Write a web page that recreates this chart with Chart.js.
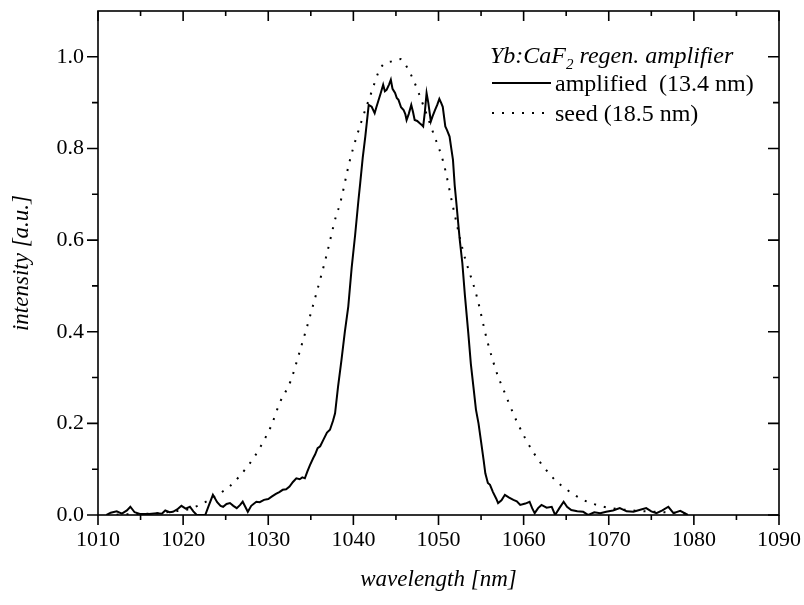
<!DOCTYPE html>
<html><head><meta charset="utf-8">
<script src="https://cdn.jsdelivr.net/npm/chart.js@4"></script>
<style>html,body{margin:0;padding:0;background:#fff}canvas{display:block}</style>
</head><body>
<canvas id="c" width="804" height="605"></canvas>
<script>
// ---- data ----
const ampWavelength = [1011.0,1011.5,1012.2,1012.8,1013.4,1013.8,1014.3,1015.0,1016.0,1016.9,1017.5,1017.9,1018.4,1018.8,1019.3,1019.8,1020.3,1020.8,1021.2,1021.6,1022.6,1023.0,1023.5,1024.0,1024.4,1024.7,1025.1,1025.5,1025.9,1026.3,1026.7,1027.0,1027.3,1027.6,1028.0,1028.6,1029.0,1029.5,1030.0,1030.4,1030.9,1031.3,1031.7,1032.1,1032.5,1032.9,1033.3,1033.7,1034.0,1034.3,1034.6,1034.9,1035.3,1035.5,1035.8,1036.1,1036.5,1036.9,1037.25,1037.6,1037.85,1038.2,1038.6,1039.0,1039.4,1039.8,1040.2,1040.6,1040.8,1041.1,1041.4,1041.6,1041.8,1042.15,1042.5,1042.7,1042.9,1043.2,1043.5,1043.7,1043.9,1044.2,1044.4,1044.6,1044.9,1045.1,1045.3,1045.6,1045.9,1046.1,1046.25,1046.5,1046.8,1047.0,1047.2,1047.5,1047.8,1048.0,1048.2,1048.4,1048.6,1048.8,1049.1,1049.3,1049.6,1049.85,1050.1,1050.3,1050.5,1050.8,1051.0,1051.3,1051.5,1051.7,1051.9,1052.1,1052.3,1052.5,1052.8,1053.1,1053.5,1053.8,1054.1,1054.4,1054.7,1055.0,1055.3,1055.5,1055.8,1056.05,1056.4,1056.8,1057.0,1057.4,1057.8,1058.3,1058.8,1059.2,1059.6,1060.2,1060.7,1061.0,1061.3,1061.7,1062.1,1062.7,1063.3,1063.7,1064.2,1064.7,1065.1,1065.6,1066.3,1067.0,1067.6,1068.3,1069.0,1069.7,1070.5,1071.3,1072.1,1072.9,1073.6,1074.4,1075.0,1075.6,1076.3,1077.0,1077.6,1078.4,1079.3];
const ampIntensity = [0.000,0.005,0.008,0.003,0.010,0.018,0.006,0.002,0.002,0.004,0.003,0.010,0.006,0.007,0.012,0.020,0.014,0.018,0.008,0.000,0.000,0.020,0.044,0.028,0.020,0.018,0.024,0.026,0.020,0.015,0.022,0.029,0.018,0.007,0.020,0.029,0.028,0.033,0.035,0.040,0.046,0.050,0.055,0.056,0.062,0.072,0.080,0.078,0.082,0.080,0.095,0.109,0.125,0.132,0.146,0.150,0.165,0.180,0.186,0.205,0.222,0.280,0.338,0.400,0.455,0.540,0.610,0.688,0.724,0.780,0.826,0.860,0.895,0.891,0.877,0.890,0.902,0.920,0.939,0.925,0.928,0.940,0.950,0.930,0.921,0.910,0.906,0.890,0.884,0.875,0.862,0.875,0.895,0.880,0.862,0.860,0.855,0.852,0.848,0.880,0.921,0.900,0.859,0.870,0.884,0.895,0.908,0.900,0.891,0.848,0.840,0.826,0.800,0.775,0.720,0.681,0.640,0.600,0.550,0.480,0.397,0.330,0.280,0.230,0.200,0.160,0.120,0.091,0.070,0.066,0.050,0.035,0.026,0.032,0.044,0.038,0.033,0.030,0.022,0.025,0.029,0.015,0.004,0.015,0.022,0.016,0.018,0.000,0.015,0.029,0.018,0.011,0.008,0.007,0.000,0.006,0.004,0.007,0.010,0.015,0.008,0.007,0.011,0.015,0.008,0.004,0.010,0.018,0.004,0.009,0.000];
const seedWavelength = [1011.0,1014.0,1017.0,1019.0,1020.5,1021.7,1023.0,1024.3,1025.5,1026.5,1027.6,1028.3,1029.0,1029.7,1030.4,1031.4,1032.0,1032.6,1033.7,1035.0,1036.3,1036.9,1038.0,1038.4,1039.6,1041.0,1042.15,1042.9,1043.5,1044.5,1045.5,1046.25,1047.2,1048.2,1049.4,1050.6,1051.7,1052.9,1054.5,1055.7,1057.0,1057.4,1059.2,1061.1,1063.5,1065.1,1067.0,1069.4,1072.1,1075.6,1078.4,1079.5];
const seedIntensity = [0.000,0.002,0.004,0.008,0.012,0.020,0.032,0.047,0.063,0.082,0.107,0.125,0.146,0.170,0.197,0.247,0.268,0.291,0.357,0.440,0.528,0.571,0.655,0.677,0.775,0.862,0.924,0.964,0.983,0.990,0.995,0.979,0.943,0.895,0.833,0.768,0.673,0.575,0.477,0.382,0.302,0.284,0.204,0.138,0.080,0.055,0.033,0.018,0.011,0.007,0.004,0.002];
const xMajorTicks = [1010,1020,1030,1040,1050,1060,1070,1080,1090];
const xMinorTicks = [1015,1025,1035,1045,1055,1065,1075,1085];
const yMajorTicks = [0.0,0.2,0.4,0.6,0.8,1.0];
const yMinorTicks = [0.1,0.3,0.5,0.7,0.9];
const legendTitle = ['Yb:CaF', '2', ' regen. amplifier'];
const seriesNames = ['amplified  (13.4 nm)', 'seed (18.5 nm)'];
const xTitle = 'wavelength [nm]';
const yTitle = 'intensity [a.u.]';

const SERIF = '"Liberation Serif", "Times New Roman", serif';

const framePlugin = {
  id: 'frame',
  afterDraw(chart) {
    const {ctx, chartArea: a, scales: {x, y}} = chart;
    ctx.save();
    ctx.strokeStyle = '#000';
    ctx.lineWidth = 1.6;
    ctx.strokeRect(a.left, a.top, a.right - a.left, a.bottom - a.top);
    ctx.beginPath();
    const tick = (x1, y1, x2, y2) => { ctx.moveTo(x1, y1); ctx.lineTo(x2, y2); };
    xMajorTicks.forEach(v => { const px = x.getPixelForValue(v); tick(px, a.bottom, px, a.bottom + 10); tick(px, a.top, px, a.top + 10); });
    xMinorTicks.forEach(v => { const px = x.getPixelForValue(v); tick(px, a.bottom, px, a.bottom + 5); tick(px, a.top, px, a.top + 5); });
    yMajorTicks.forEach(v => { const py = y.getPixelForValue(v); tick(a.left - 11, py, a.left, py); tick(a.right - 11, py, a.right, py); });
    yMinorTicks.forEach(v => { const py = y.getPixelForValue(v); tick(a.left - 6, py, a.left, py); tick(a.right - 6, py, a.right, py); });
    ctx.stroke();

    // legend
    ctx.fillStyle = '#000';
    ctx.textBaseline = 'alphabetic';
    ctx.textAlign = 'left';
    let lx = 490;
    ctx.font = 'italic 24px ' + SERIF;
    ctx.fillText(legendTitle[0], lx, 63);
    lx += ctx.measureText(legendTitle[0]).width;
    ctx.font = 'italic 15px ' + SERIF;
    ctx.fillText(legendTitle[1], lx, 69);
    lx += ctx.measureText(legendTitle[1]).width;
    ctx.font = 'italic 24px ' + SERIF;
    ctx.fillText(legendTitle[2], lx, 63);

    ctx.font = '24px ' + SERIF;
    ctx.fillText(seriesNames[0], 555, 91);
    ctx.fillText(seriesNames[1], 555, 121);
    ctx.lineWidth = 2;
    ctx.beginPath(); ctx.moveTo(492, 83); ctx.lineTo(551, 83); ctx.stroke();
    ctx.setLineDash([2, 8]);
    ctx.beginPath(); ctx.moveTo(492, 113); ctx.lineTo(551, 113); ctx.stroke();
    ctx.restore();
  }
};

new Chart(document.getElementById('c'), {
  type: 'line',
  data: {
    datasets: [
      { label: seriesNames[0], data: ampWavelength.map((w, i) => ({x: w, y: ampIntensity[i]})),
        borderColor: '#000', borderWidth: 2, pointRadius: 0, tension: 0, fill: false },
      { label: seriesNames[1], data: seedWavelength.map((w, i) => ({x: w, y: seedIntensity[i]})),
        borderColor: '#000', borderWidth: 2, borderDash: [2, 8], pointRadius: 0, cubicInterpolationMode: 'monotone', fill: false }
    ]
  },
  options: {
    responsive: false, devicePixelRatio: 1, animation: false,
    layout: { padding: { top: 11, right: 25, left: 0, bottom: 0 } },
    plugins: { legend: { display: false }, tooltip: { enabled: false } },
    scales: {
      x: {
        type: 'linear', min: 1010, max: 1090,
        afterFit: s => { s.height = 90; s.paddingLeft = 0; s.paddingRight = 0; },
        afterBuildTicks: s => { s.ticks = xMajorTicks.map(v => ({value: v})); },
        grid: { display: true, drawOnChartArea: false, drawTicks: false, color: 'rgba(0,0,0,0)' },
        border: { display: false },
        ticks: { color: '#000', font: { family: SERIF, size: 22 }, padding: 12, maxRotation: 0, autoSkip: false,
                 callback: v => String(v) },
        title: { display: true, text: xTitle, color: '#000', font: { family: SERIF, size: 23, style: 'italic' }, padding: { top: 8, bottom: 11 } }
      },
      y: {
        type: 'linear', min: 0, max: 1.1,
        afterFit: s => { s.width = 98; s.paddingTop = 0; s.paddingBottom = 0; },
        afterBuildTicks: s => { s.ticks = yMajorTicks.map(v => ({value: v})); },
        grid: { display: true, drawOnChartArea: false, drawTicks: false, color: 'rgba(0,0,0,0)' },
        border: { display: false },
        ticks: { color: '#000', font: { family: SERIF, size: 22 }, padding: 14,
                 callback: v => Number(v).toFixed(1) },
        title: { display: true, text: yTitle, color: '#000', font: { family: SERIF, size: 23, style: 'italic' }, padding: { top: 8, bottom: 8 } }
      }
    }
  },
  plugins: [framePlugin]
});
</script>
</body></html>
